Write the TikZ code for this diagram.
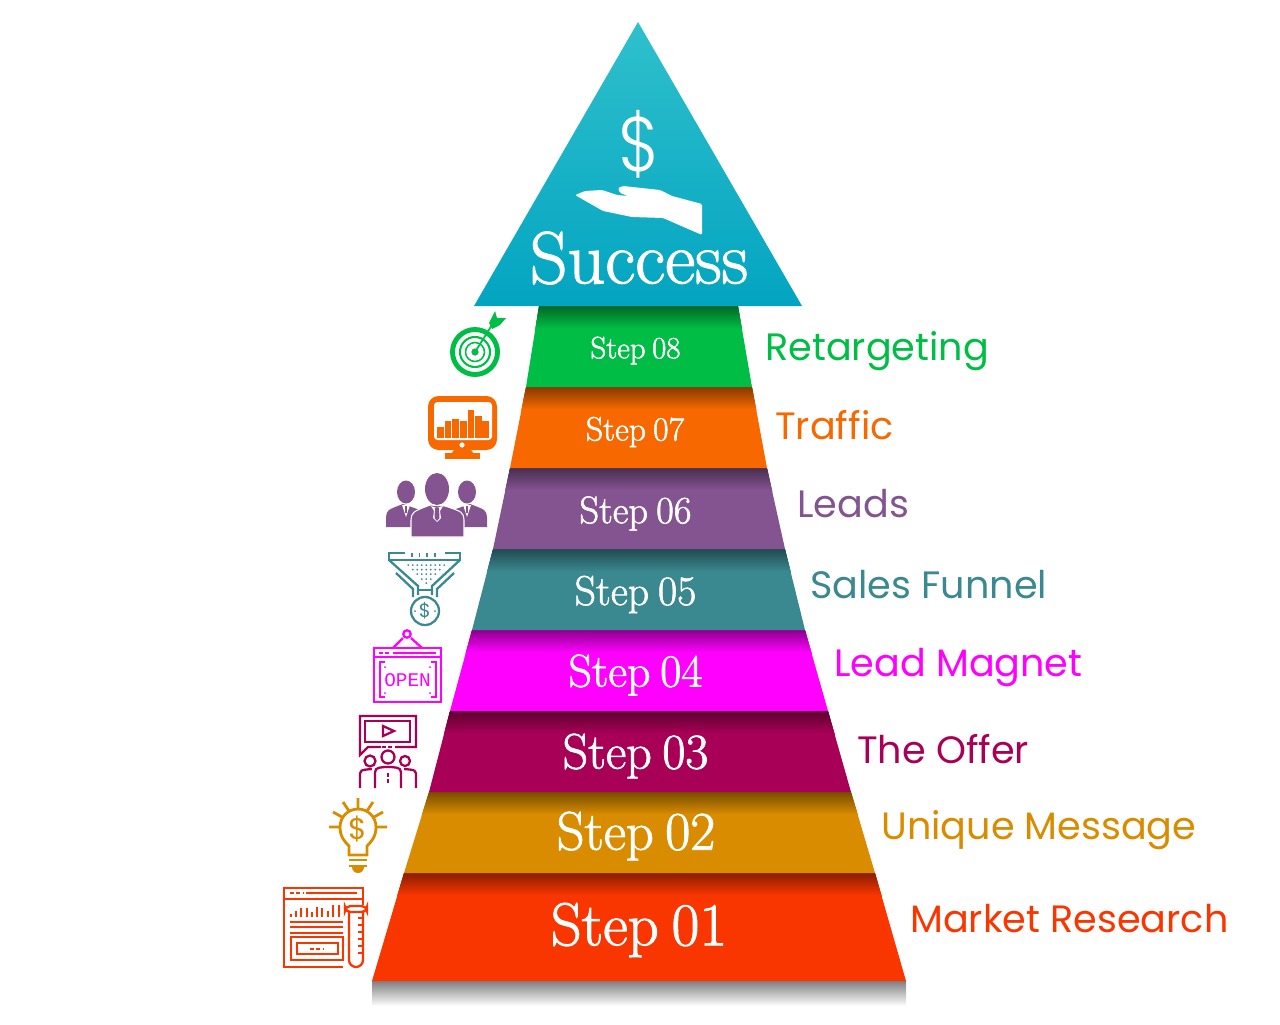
\documentclass[tikz,border=0pt]{standalone}
\usepackage{fontspec}
\newfontfamily\labelfont{Poppins}
\newfontfamily\thinfont[FakeStretch=0.9]{Poppins Light}
\newfontfamily\signfont{Liberation Mono}
\newfontfamily\stepfont[FakeBold=1.5,WordSpace=0.7]{lmroman17-regular.otf}
\definecolor{topcol}{HTML}{2FC0CC}
\definecolor{basecol}{HTML}{03A4C1}
\definecolor{colA}{HTML}{FA3600}
\definecolor{colB}{HTML}{D98C00}
\definecolor{colC}{HTML}{A80056}
\definecolor{colD}{HTML}{FF00FF}
\definecolor{colE}{HTML}{3A8890}
\definecolor{colF}{HTML}{845491}
\definecolor{colG}{HTML}{F76900}
\definecolor{colH}{HTML}{00BD45}
\tikzset{
	band/.style={fill=#1, path picture={\foreach \i in {0,...,22} {
		\pgfmathtruncatemacro{\pct}{55+45*\i/22}
		\fill[#1!\pct!black] ([yshift={-\i*0.02cm}]path picture bounding box.north west)
			rectangle ([yshift={-(\i+2)*0.02cm}]path picture bounding box.north east);}}},
	steplabel/.style={text=white, inner sep=0pt, font=\stepfont\fontsize{#1}{#1}\selectfont},
	sidelabel/.style={anchor=base west, inner sep=0pt, font=\labelfont\fontsize{21.7}{21.7}\selectfont},
	iconline/.style={draw=#1, line width=1.3pt, fill=none},
}
\begin{document}
\begin{tikzpicture}[x=0.02cm,y=-0.02cm]
	\useasboundingbox (0,0) rectangle (1280,1024);

	\shade[top color=black!50, bottom color=white] (372,981) rectangle (906,1006);
	\path[band=colA] (404,873) -- (875,873) -- (906,981) -- (372,981) -- cycle;
	\path[band=colB] (429,792) -- (851,792) -- (875,873) -- (404,873) -- cycle;
	\path[band=colC] (450,711) -- (828,711) -- (851,792) -- (429,792) -- cycle;
	\path[band=colD] (472,630) -- (805,630) -- (828,711) -- (450,711) -- cycle;
	\path[band=colE] (493,549) -- (785,549) -- (805,630) -- (472,630) -- cycle;
	\path[band=colF] (510,468) -- (767,468) -- (785,549) -- (493,549) -- cycle;
	\path[band=colG] (526,387) -- (752,387) -- (767,468) -- (510,468) -- cycle;
	\path[band=colH] (539,306) -- (738,306) -- (752,387) -- (526,387) -- cycle;
	\shade[top color=topcol, bottom color=basecol] (638,22) -- (802,306) -- (474,306) -- cycle;

	\fill[white, rounded corners=0.8pt] (575,195) -- (585,191) -- (602,190) -- (617,195) -- (628,196) -- (620,193)
		-- (618,188) -- (623,186) -- (660,190) -- (672,196) -- (702,204) -- (702,235)
		-- (663,218) -- (632,217) -- (603,211) -- cycle;
	\node (dollar) at (639,144) [text=white, inner sep=0pt, font=\thinfont\fontsize{44}{44}\selectfont] {\$};
	\node (success) at (639,258) [text=white, inner sep=0pt, font=\stepfont\fontsize{42}{42}\selectfont] {Success};

	\node (S8) at (635.5,350.5) [steplabel=17.6] {Step 08};
	\node (S7) at (635,432) [steplabel=19.2] {Step 07};
	\node (S6) at (635.5,513.5) [steplabel=21.9] {Step 06};
	\node (S5) at (635.5,594.5) [steplabel=23.8] {Step 05};
	\node (S4) at (635.5,675) [steplabel=26.2] {Step 04};
	\node (S3) at (635.5,756) [steplabel=28.5] {Step 03};
	\node (S2) at (636,836) [steplabel=31] {Step 02};
	\node (S1) at (639,930) [steplabel=34.5] {Step 01};

	\node (T8) at (765,360) [sidelabel, text=colH] {Retargeting};
	\node (T7) at (775,439) [sidelabel, text=colG] {Traffic};
	\node (T6) at (797,517) [sidelabel, text=colF] {Leads};
	\node (T5) at (810,598) [sidelabel, text=colE] {Sales Funnel};
	\node (T4) at (834,676) [sidelabel, text=colD] {Lead Magnet};
	\node (T3) at (857,763) [sidelabel, text=colC] {The Offer};
	\node (T2) at (881,839) [sidelabel, text=colB] {Unique Message};
	\node (T1) at (910,932) [sidelabel, text=colA] {Market Research};

	% target
	\draw[iconline=colH, line width=2.8pt] (475,352) circle (22.5);
	\draw[iconline=colH, line width=1.2pt] (475,352) circle (15);
	\draw[iconline=colH, line width=0.9pt] (475,352) circle (9.5);
	\fill[colH] (475,352) circle (3.6);
	\draw[iconline=colH, line width=1pt] (475,352) -- (492,325);
	\fill[colH] (489,323) -- (495,311) -- (497,318) -- (506,318) -- (500,325) -- (492,329) -- cycle;

	% monitor
	\fill[colG, rounded corners=6pt] (428,396) rectangle (497,450);
	\fill[white, rounded corners=2pt] (434,402) rectangle (492,440);
	\fill[white] (462,445) circle (2.6);
	\fill[colG] (454,450) -- (471,450) -- (474,454) -- (451,454) -- cycle;
	\fill[colG] (445,453) rectangle (480,459);
	\foreach \barx/\bary in {437/427, 444.5/421, 452/419, 460/421, 467.5/410, 475/416, 482/421}
		\fill[colG] (\barx,\bary) rectangle ++(6.6,438-\bary);

	% people
	\fill[colF] (386,527) -- (386,517) .. controls (387,510) .. (403,504) -- (420,510) -- (420,527) -- cycle;
	\fill[colF] (487,527) -- (487,517) .. controls (486,510) .. (470,504) -- (453,510) -- (453,527) -- cycle;
	\fill[colF] (406,492) ellipse (9 and 11.5);
	\fill[colF] (467,492) ellipse (9 and 11.5);
	\draw[white, line width=0.6pt, fill=colF] (411,537) -- (411,520) .. controls (412,512) .. (430,505)
		-- (445,506) .. controls (463,512) .. (464,520) -- (464,537) -- cycle;
	\fill[colF] (437,489) ellipse (12 and 16);
	\fill[white] (431,506) -- (437,508) -- (443,506) -- (440,511) -- (441,518) -- (437,522) -- (433,518) -- (434,511) -- cycle;
	\fill[colF] (435,508) -- (439,508) -- (439.5,518) -- (437,521) -- (434.5,518) -- cycle;
	\fill[white] (402,505) -- (410,505) -- (406,517) -- cycle;
	\fill[white] (463,505) -- (471,505) -- (467,517) -- cycle;
	\fill[colF] (405,506) rectangle (407,513);
	\fill[colF] (466,506) rectangle (468,513);

	% funnel
	\draw[iconline=colE] (405,553) -- (389,553) -- (389,560) -- (460,560) -- (460,553) -- (445,553);
	\draw[iconline=colE, line width=2pt, dash pattern=on 1pt off 3.4pt] (411,555) -- (441,555);
	\draw[iconline=colE] (389,560) -- (418,586) -- (418,595) (460,560) -- (432,586) -- (432,595);
	\draw[iconline=colE] (396,573) -- (413,589) -- (413,597) (454,573) -- (437,589) -- (437,597);
	\draw[iconline=colE] (418,590) -- (432,590);
	\foreach \rowy/\rowx in {565/21, 569.5/16.5, 574/12, 579/7.5, 583/3}
		\foreach \dotx in {-21,-16.5,...,21.5}
			{\ifdim \dotx pt<\rowx pt \ifdim \dotx pt>-\rowx pt \fill[colE] (424.75+\dotx,\rowy) circle (1); \fi \fi}
	\draw[iconline=colE] (425,611) circle (14);
	\node (coin) at (425,611) [text=colE, inner sep=0pt, font=\labelfont\fontsize{11}{11}\selectfont] {\$};
	\fill[colE] (415,611) circle (1) (435,611) circle (1);

	% open sign
	\draw[iconline=colD] (407,634) circle (3.7);
	\draw[iconline=colD] (403,638) -- (393,648) (411,638) -- (422,648);
	\draw[iconline=colD] (374,648) rectangle (441,702);
	\draw[iconline=colD] (374,657) -- (441,657);
	\draw[iconline=colD] (393,653) -- (436,653);
	\draw[iconline=colD, dash pattern=on 2pt off 1.6pt] (379,653) -- (390,653);
	\draw[iconline=colD] (385,662) -- (380,662) -- (380,697) -- (385,697);
	\draw[iconline=colD] (431,662) -- (436,662) -- (436,697) -- (431,697);
	\fill[colD] (385,667) circle (1) (430,667) circle (1) (385,693) circle (1) (430,693) circle (1);
	\node (open) at (407.5,680) [text=colD, inner sep=0pt, font=\signfont\fontsize{11}{11}\selectfont] {OPEN};

	% video
	\draw[iconline=colC] (381,747) -- (368,747) -- (360,755) -- (360,716) -- (416,716) -- (416,747) -- (395,747);
	\draw[iconline=colC, dash pattern=on 2pt off 1.6pt] (382,747) -- (394,747);
	\draw[iconline=colC] (365,721) rectangle (410,742);
	\draw[iconline=colC] (383,726) -- (394,731) -- (383,736) -- cycle;
	\draw[iconline=colC] (370,761) circle (5.5);
	\draw[iconline=colC] (388,757) circle (6.5);
	\draw[iconline=colC] (405,761) circle (5);
	\draw[iconline=colC] (360,788) -- (360,777) .. controls (360,770) .. (372,769);
	\draw[iconline=colC] (375,788) -- (375,777) .. controls (375,768) .. (385,767) -- (391,767) .. controls (401,768) .. (401,777) -- (401,788);
	\draw[iconline=colC] (416,788) -- (416,777) .. controls (416,770) .. (404,769);
	\draw[iconline=colC, dash pattern=on 2pt off 1.6pt] (388,773) -- (388,784);

	% bulb
	\draw[iconline=colB, line width=1.6pt] (349,855) -- (349,846) .. controls (345,842) and (340,837) .. (340,827)
		arc (180:360:18) .. controls (376,837) and (371,842) .. (367,846) -- (367,855) -- cycle;
	\node (bulbsign) at (358,829) [text=colB, inner sep=0pt, font=\labelfont\fontsize{17}{17}\selectfont] {\$};
	\draw[iconline=colB, line width=1.6pt] (349,860) -- (367,860) (349,866) -- (367,866);
	\fill[colB] (352,867) -- (364,867) arc (0:180:6) -- cycle;
	\draw[iconline=colB, line width=1.6pt] (329,827) -- (339,827) (377,827) -- (387,827) (358,798) -- (358,808)
		(343,802) -- (349,811) (373,802) -- (367,811) (333,812) -- (342,817) (383,812) -- (374,817);

	% research
	\draw[iconline=colA] (343,967) -- (284,967) -- (284,888) -- (363,888) -- (363,905);
	\draw[iconline=colA] (284,899) -- (363,899);
	\draw[iconline=colA] (306,893) -- (357,893);
	\draw[iconline=colA, dash pattern=on 2pt off 1.6pt] (290,893) -- (303,893);
	\foreach \barx/\bary in {291/914, 296/911, 301/908, 307/908, 312/912, 317/907, 322/908, 328/911, 333/905, 339/905}
		\draw[iconline=colA] (\barx,917) -- (\barx,\bary);
	\draw[iconline=colA] (290,922) -- (343,922) (290,927) -- (343,927) (290,933) -- (343,933);
	\draw[iconline=colA] (291,937) rectangle (343,960);
	\draw[iconline=colA] (297,943) rectangle (338,954);
	\draw[iconline=colA, dash pattern=on 2pt off 1.6pt] (310,949) -- (324,949);
	\draw[iconline=colA, rounded corners=3pt, fill=white] (345,906) rectangle (367,912);
	\draw[iconline=colA] (349,912) -- (349,960) arc (180:0:7) -- (363,912);
	\foreach \ticky in {918,925,932,939,946,953}
		\draw[iconline=colA] (358,\ticky) -- (363,\ticky);
\end{tikzpicture}
\end{document}
